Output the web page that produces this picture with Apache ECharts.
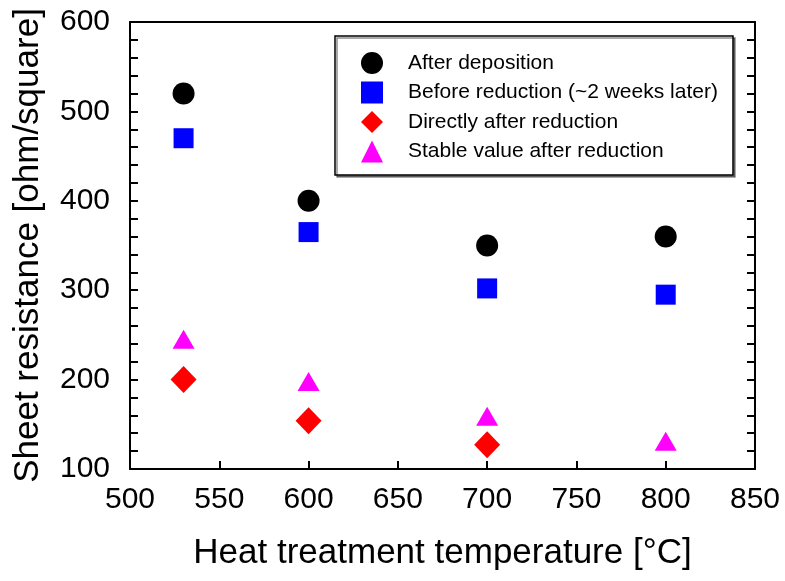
<!DOCTYPE html>
<html>
<head>
<meta charset="utf-8">
<script src="https://cdn.jsdelivr.net/npm/echarts@6/dist/echarts.min.js"></script>
<style>html,body{margin:0;padding:0;background:#fff}#c{width:785px;height:581px}</style>
</head>
<body>
<div id="c"></div>
<script>
var temps = [530, 600, 700, 800];
var afterDeposition = [520, 400, 350, 360];
var beforeReduction = [470, 365, 302, 295];
var directlyAfter = [200, 154, 127, null];
var stableValue = [245, 198, 159, 131];
var seriesNames = ['After deposition', 'Before reduction (~2 weeks later)', 'Directly after reduction', 'Stable value after reduction'];

function pairs(vals) {
  var out = [];
  for (var i = 0; i < temps.length; i++) { if (vals[i] != null) out.push([temps[i], vals[i]]); }
  return out;
}
var FF = "'Liberation Sans', Arial, sans-serif";
var chart = echarts.init(document.getElementById('c'));
var axisLine = { show: true, onZero: false, lineStyle: { color: '#000', width: 2 } };
var tick = { show: true, inside: true, length: 8, lineStyle: { color: '#000', width: 2 } };
var minor = { show: true, splitNumber: 5, length: 8, lineStyle: { color: '#000', width: 2 } };
chart.setOption({
  animation: false,
  backgroundColor: '#fff',
  grid: { left: 130, right: 30, top: 22, bottom: 112 },
  graphic: [{
    type: 'rect', z: 1,
    shape: { x: 335, y: 36, width: 398, height: 139 },
    style: { fill: '#fff', stroke: '#000', lineWidth: 1.5, shadowColor: 'rgba(0,0,0,0.45)', shadowOffsetX: 2, shadowOffsetY: 2, shadowBlur: 0 }
  }],
  legend: {
    orient: 'vertical', left: 361, top: 52, padding: 0, z: 5,
    itemWidth: 22, itemHeight: 22, itemGap: 7.5,
    textStyle: { fontSize: 21, color: '#000', fontFamily: FF, padding: [0, 0, 0, 20] },
    data: [
      { name: seriesNames[0], icon: 'circle' },
      { name: seriesNames[1], icon: 'rect' },
      { name: seriesNames[2], icon: 'diamond' },
      { name: seriesNames[3], icon: 'triangle' }
    ]
  },
  xAxis: [{
    type: 'value', min: 500, max: 850, interval: 50, position: 'bottom',
    axisLine: axisLine, axisTick: tick, splitLine: { show: false },
    axisLabel: { fontSize: 30, color: '#000', fontFamily: FF, margin: 16 },
    name: 'Heat treatment temperature [°C]', nameLocation: 'middle', nameGap: 67,
    nameTextStyle: { fontSize: 35, color: '#000', fontFamily: FF }
  }, {
    type: 'value', min: 500, max: 850, interval: 50, position: 'top',
    axisLine: axisLine, axisTick: { show: false }, axisLabel: { show: false }, splitLine: { show: false }
  }],
  yAxis: [{
    type: 'value', min: 100, max: 600, interval: 100, position: 'left',
    axisLine: axisLine, axisTick: tick, minorTick: minor, splitLine: { show: false },
    axisLabel: { fontSize: 30, color: '#000', fontFamily: FF, margin: 20 },
    name: 'Sheet resistance [ohm/square]', nameLocation: 'middle', nameGap: 84,
    nameTextStyle: { fontSize: 35, color: '#000', fontFamily: FF }
  }, {
    type: 'value', min: 100, max: 600, interval: 100, position: 'right',
    axisLine: axisLine, axisTick: tick, minorTick: minor, splitLine: { show: false },
    axisLabel: { show: false }
  }],
  series: [
    { name: seriesNames[0], type: 'scatter', symbol: 'circle', symbolSize: 22, itemStyle: { color: '#000', opacity: 1 }, data: pairs(afterDeposition) },
    { name: seriesNames[1], type: 'scatter', symbol: 'rect', symbolSize: 20, itemStyle: { color: '#0000ff', opacity: 1 }, data: pairs(beforeReduction) },
    { name: seriesNames[2], type: 'scatter', symbol: 'diamond', symbolSize: [26, 27], itemStyle: { color: '#ff0000', opacity: 1 }, data: pairs(directlyAfter) },
    { name: seriesNames[3], type: 'scatter', symbol: 'triangle', symbolSize: [22, 19], itemStyle: { color: '#ff00ff', opacity: 1 }, data: pairs(stableValue) }
  ]
});
</script>
</body>
</html>
